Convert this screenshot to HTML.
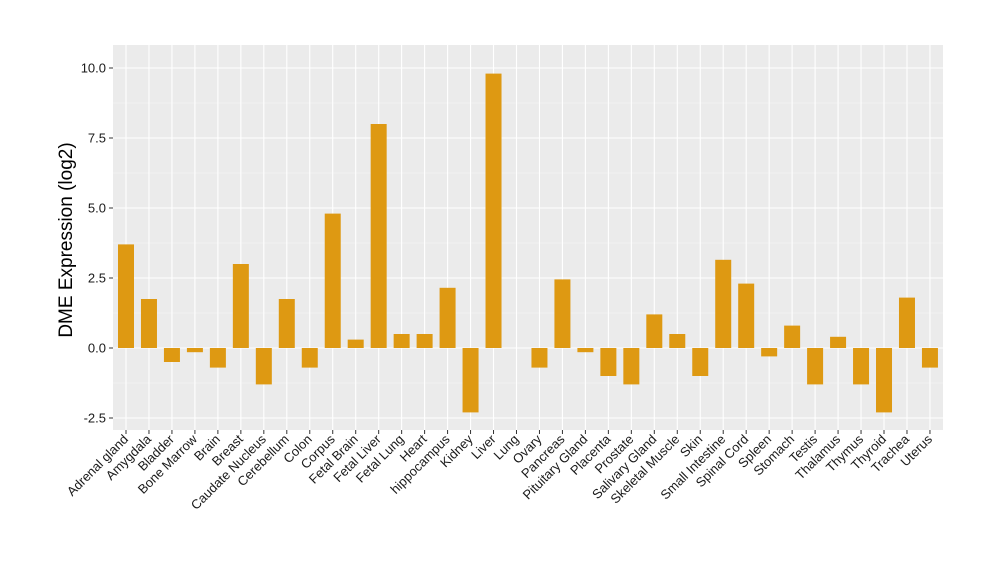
<!DOCTYPE html>
<html><head><meta charset="utf-8"><style>body{margin:0;background:#fff}</style></head><body>
<svg width="1000" height="580" xmlns="http://www.w3.org/2000/svg" font-family="Liberation Sans, sans-serif">
<rect width="1000" height="580" fill="#fff"/>
<rect x="113" y="45" width="830" height="385" fill="#ebebeb"/>
<g stroke="#f5f5f5" stroke-width="0.6">
<line x1="113" x2="943" y1="383" y2="383"/><line x1="113" x2="943" y1="313" y2="313"/><line x1="113" x2="943" y1="243" y2="243"/><line x1="113" x2="943" y1="173" y2="173"/><line x1="113" x2="943" y1="103" y2="103"/>
</g>
<g stroke="#fff" stroke-width="1.1">
<line x1="113" x2="943" y1="418" y2="418"/><line x1="113" x2="943" y1="348" y2="348"/><line x1="113" x2="943" y1="278" y2="278"/><line x1="113" x2="943" y1="208" y2="208"/><line x1="113" x2="943" y1="138" y2="138"/><line x1="113" x2="943" y1="68" y2="68"/>
<path d="M126 45V430M148.97 45V430M171.94 45V430M194.91 45V430M217.88 45V430M240.85 45V430M263.82 45V430M286.79 45V430M309.76 45V430M332.73 45V430M355.7 45V430M378.67 45V430M401.64 45V430M424.61 45V430M447.58 45V430M470.55 45V430M493.52 45V430M516.49 45V430M539.46 45V430M562.43 45V430M585.4 45V430M608.37 45V430M631.34 45V430M654.31 45V430M677.28 45V430M700.25 45V430M723.22 45V430M746.19 45V430M769.16 45V430M792.13 45V430M815.1 45V430M838.07 45V430M861.04 45V430M884.01 45V430M906.98 45V430M929.95 45V430"/>
</g>
<g fill="#de9912">
<rect x="118" y="244.4" width="16" height="103.6"/>
<rect x="140.97" y="299" width="16" height="49"/>
<rect x="163.94" y="348" width="16" height="14"/>
<rect x="186.91" y="348" width="16" height="4.2"/>
<rect x="209.88" y="348" width="16" height="19.6"/>
<rect x="232.85" y="264" width="16" height="84"/>
<rect x="255.82" y="348" width="16" height="36.4"/>
<rect x="278.79" y="299" width="16" height="49"/>
<rect x="301.76" y="348" width="16" height="19.6"/>
<rect x="324.73" y="213.6" width="16" height="134.4"/>
<rect x="347.7" y="339.6" width="16" height="8.4"/>
<rect x="370.67" y="124" width="16" height="224"/>
<rect x="393.64" y="334" width="16" height="14"/>
<rect x="416.61" y="334" width="16" height="14"/>
<rect x="439.58" y="287.8" width="16" height="60.2"/>
<rect x="462.55" y="348" width="16" height="64.4"/>
<rect x="485.52" y="73.6" width="16" height="274.4"/>
<rect x="531.46" y="348" width="16" height="19.6"/>
<rect x="554.43" y="279.4" width="16" height="68.6"/>
<rect x="577.4" y="348" width="16" height="4.2"/>
<rect x="600.37" y="348" width="16" height="28"/>
<rect x="623.34" y="348" width="16" height="36.4"/>
<rect x="646.31" y="314.4" width="16" height="33.6"/>
<rect x="669.28" y="334" width="16" height="14"/>
<rect x="692.25" y="348" width="16" height="28"/>
<rect x="715.22" y="259.8" width="16" height="88.2"/>
<rect x="738.19" y="283.6" width="16" height="64.4"/>
<rect x="761.16" y="348" width="16" height="8.4"/>
<rect x="784.13" y="325.6" width="16" height="22.4"/>
<rect x="807.1" y="348" width="16" height="36.4"/>
<rect x="830.07" y="336.8" width="16" height="11.2"/>
<rect x="853.04" y="348" width="16" height="36.4"/>
<rect x="876.01" y="348" width="16" height="64.4"/>
<rect x="898.98" y="297.6" width="16" height="50.4"/>
<rect x="921.95" y="348" width="16" height="19.6"/>
</g>
<g stroke="#333" stroke-width="1">
<path d="M126 430V434M148.97 430V434M171.94 430V434M194.91 430V434M217.88 430V434M240.85 430V434M263.82 430V434M286.79 430V434M309.76 430V434M332.73 430V434M355.7 430V434M378.67 430V434M401.64 430V434M424.61 430V434M447.58 430V434M470.55 430V434M493.52 430V434M516.49 430V434M539.46 430V434M562.43 430V434M585.4 430V434M608.37 430V434M631.34 430V434M654.31 430V434M677.28 430V434M700.25 430V434M723.22 430V434M746.19 430V434M769.16 430V434M792.13 430V434M815.1 430V434M838.07 430V434M861.04 430V434M884.01 430V434M906.98 430V434M929.95 430V434"/>
<path d="M109 418H113M109 348H113M109 278H113M109 208H113M109 138H113M109 68H113"/>
</g>
<g font-size="13" fill="#1a1a1a" text-anchor="end">
<text x="106" y="422.5">-2.5</text><text x="106" y="352.5">0.0</text><text x="106" y="282.5">2.5</text><text x="106" y="212.5">5.0</text><text x="106" y="142.5">7.5</text><text x="106" y="72.5">10.0</text>
<text transform="translate(129,440) rotate(-45)">Adrenal gland</text>
<text transform="translate(151.97,440) rotate(-45)">Amygdala</text>
<text transform="translate(174.94,440) rotate(-45)">Bladder</text>
<text transform="translate(197.91,440) rotate(-45)">Bone Marrow</text>
<text transform="translate(220.88,440) rotate(-45)">Brain</text>
<text transform="translate(243.85,440) rotate(-45)">Breast</text>
<text transform="translate(266.82,440) rotate(-45)">Caudate Nucleus</text>
<text transform="translate(289.79,440) rotate(-45)">Cerebellum</text>
<text transform="translate(312.76,440) rotate(-45)">Colon</text>
<text transform="translate(335.73,440) rotate(-45)">Corpus</text>
<text transform="translate(358.7,440) rotate(-45)">Fetal Brain</text>
<text transform="translate(381.67,440) rotate(-45)">Fetal Liver</text>
<text transform="translate(404.64,440) rotate(-45)">Fetal Lung</text>
<text transform="translate(427.61,440) rotate(-45)">Heart</text>
<text transform="translate(450.58,440) rotate(-45)">hippocampus</text>
<text transform="translate(473.55,440) rotate(-45)">Kidney</text>
<text transform="translate(496.52,440) rotate(-45)">Liver</text>
<text transform="translate(519.49,440) rotate(-45)">Lung</text>
<text transform="translate(542.46,440) rotate(-45)">Ovary</text>
<text transform="translate(565.43,440) rotate(-45)">Pancreas</text>
<text transform="translate(588.4,440) rotate(-45)">Pituitary Gland</text>
<text transform="translate(611.37,440) rotate(-45)">Placenta</text>
<text transform="translate(634.34,440) rotate(-45)">Prostate</text>
<text transform="translate(657.31,440) rotate(-45)">Salivary Gland</text>
<text transform="translate(680.28,440) rotate(-45)">Skeletal Muscle</text>
<text transform="translate(703.25,440) rotate(-45)">Skin</text>
<text transform="translate(726.22,440) rotate(-45)">Small Intestine</text>
<text transform="translate(749.19,440) rotate(-45)">Spinal Cord</text>
<text transform="translate(772.16,440) rotate(-45)">Spleen</text>
<text transform="translate(795.13,440) rotate(-45)">Stomach</text>
<text transform="translate(818.1,440) rotate(-45)">Testis</text>
<text transform="translate(841.07,440) rotate(-45)">Thalamus</text>
<text transform="translate(864.04,440) rotate(-45)">Thymus</text>
<text transform="translate(887.01,440) rotate(-45)">Thyroid</text>
<text transform="translate(909.98,440) rotate(-45)">Trachea</text>
<text transform="translate(932.95,440) rotate(-45)">Uterus</text>
</g>
<text x="72" y="240" font-size="19" text-anchor="middle" fill="#000" transform="rotate(-90 72 240)">DME Expression (log2)</text>
</svg>
</body></html>
